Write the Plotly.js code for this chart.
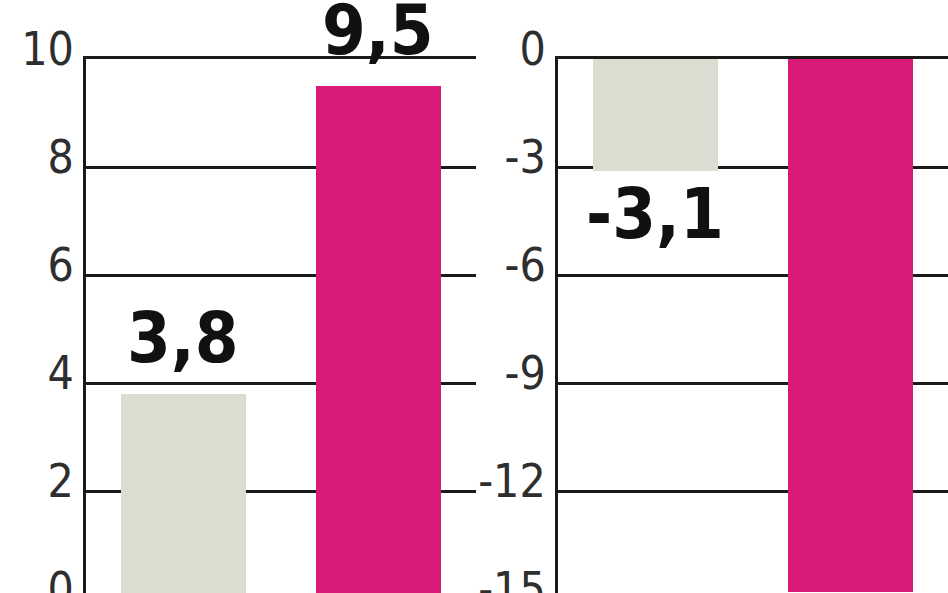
<!DOCTYPE html>
<html>
<head>
<meta charset="utf-8">
<script src="https://cdn.plot.ly/plotly-3.0.1.min.js"></script>
<style>
  html, body { margin: 0; padding: 0; overflow: hidden; background: #fff; }
  #graph { width: 948px; height: 660px; }
</style>
</head>
<body>
<div id="graph"></div>
<script>
// two small panels, same two categories in each
const categories = ['I', 'II'];
const leftValues = [3.8, 9.5];
const rightValues = [-3.1, -14.8];
const barColors = ['#dcddd0', '#d91a78'];

const leftTicks = [0, 2, 4, 6, 8, 10];
const rightTicks = [0, -3, -6, -9, -12, -15];

const fmt = v => v.toFixed(1).replace('.', ',');

const tickFont = { family: '"DejaVu Sans Condensed", "Liberation Sans Narrow", sans-serif', size: 46, color: '#2e2e2e' };
const labelFont = { family: '"DejaVu Sans Condensed", "Liberation Sans Narrow", sans-serif', size: 70, color: '#111', weight: 'bold' };

let data = [
    {
        x: categories,
        y: leftValues,
        type: 'bar',
        width: 0.646,
        marker: { color: barColors },
        xaxis: 'x',
        yaxis: 'y',
        hoverinfo: 'none'
    },
    {
        x: categories,
        y: rightValues,
        type: 'bar',
        width: 0.646,
        marker: { color: barColors },
        xaxis: 'x2',
        yaxis: 'y2',
        hoverinfo: 'none'
    }
];

// value labels above / below each bar
let annotations = [];
leftValues.forEach((v, i) => {
    annotations.push({
        x: categories[i], y: v, xref: 'x', yref: 'y',
        text: fmt(v), showarrow: false,
        yanchor: 'bottom', yshift: 13,
        font: labelFont
    });
});
rightValues.forEach((v, i) => {
    annotations.push({
        x: categories[i], y: v, xref: 'x2', yref: 'y2',
        text: fmt(v), showarrow: false,
        yanchor: 'top', yshift: 0,
        font: labelFont
    });
});

const yCommon = {
    showgrid: true,
    gridcolor: '#1a1a1a',
    gridwidth: 3,
    zeroline: false,
    showline: true,
    linecolor: '#1a1a1a',
    linewidth: 3,
    ticks: '',
    tickfont: tickFont,
    ticklabelstandoff: 0,
    ticklabelshift: -10,
    fixedrange: true
};

// mirrored x line gives the top grid line that plotly skips at the range edge
const xCommon = {
    range: [-0.5, 1.5],
    showticklabels: false,
    showgrid: false,
    zeroline: false,
    showline: true,
    mirror: true,
    linecolor: '#1a1a1a',
    linewidth: 3,
    ticks: '',
    layer: 'below traces',
    fixedrange: true
};

let layout = {
    width: 948,
    height: 660,
    margin: { l: 0, r: 0, t: 59, b: 61 },
    paper_bgcolor: '#fff',
    plot_bgcolor: '#fff',
    showlegend: false,
    bargap: 0,
    xaxis: Object.assign({}, xCommon, { domain: [0.0907, 0.5021], anchor: 'y' }),
    xaxis2: Object.assign({}, xCommon, { domain: [0.5886, 1], anchor: 'y2' }),
    yaxis: Object.assign({}, yCommon, { range: [0, 10], tickvals: leftTicks, anchor: 'x' }),
    yaxis2: Object.assign({}, yCommon, { range: [-15, 0], tickvals: rightTicks, ticktext: rightTicks.map(String), anchor: 'x2' }),
    annotations: annotations
};

Plotly.newPlot('graph', data, layout, { displayModeBar: false, staticPlot: true });
</script>
</body>
</html>
